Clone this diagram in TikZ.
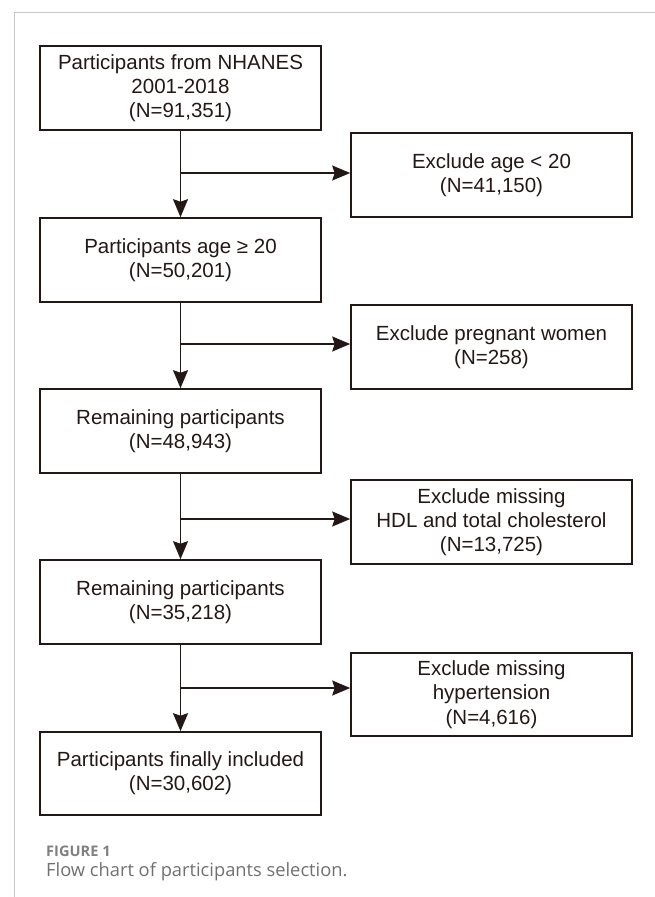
\documentclass[tikz,border=0pt]{standalone}
\usepackage{fontspec}
\setmainfont{Liberation Sans}
\newfontfamily\capfont{Open Sans}
\usetikzlibrary{arrows.meta}
\definecolor{ink}{RGB}{35,24,21}
\definecolor{framegray}{RGB}{200,200,200}
\definecolor{capgray}{RGB}{128,128,128}
\definecolor{captext}{RGB}{112,112,112}
\tikzset{
  box/.style={draw=ink, line width=1.6pt, rectangle, minimum width=281pt, minimum height=84pt,
    inner sep=0pt, align=center, text=ink, font=\fontsize{20.5}{24.3}\selectfont,
    execute at begin node={\rule{0pt}{23pt}}},
  arr/.style={draw=ink, line width=1.6pt, -{Stealth[length=18pt,width=15pt,inset=2.5pt]}},
  frameline/.style={draw=framegray, line width=1pt},
}
\begin{document}
\begin{tikzpicture}[x=1pt,y=-1pt]
\useasboundingbox (0,0) rectangle (655,897);
\draw[frameline] (14,897) -- (14,12) -- (655,12);

\node[box] (b1) at (180.5,88) {Participants from NHANES\\2001-2018\\(N=91,351)};
\node[box] (b2) at (180.5,260) {Participants age ≥ 20\\(N=50,201)};
\node[box] (b3) at (180.5,431) {Remaining participants\\(N=48,943)};
\node[box] (b4) at (180.5,602) {Remaining participants\\(N=35,218)};
\node[box, minimum height=83pt] (b5) at (180.5,773.5) {Participants finally included\\(N=30,602)};

\node[box] (e1) at (491.5,175) {Exclude age < 20\\(N=41,150)};
\node[box] (e2) at (491.5,347) {Exclude pregnant women\\(N=258)};
\node[box] (e3) at (491.5,522) {Exclude missing\\HDL and total cholesterol\\(N=13,725)};
\node[box, minimum height=83pt] (e4) at (491.5,694.5) {Exclude missing\\hypertension\\(N=4,616)};

\coordinate (j1) at (180.5,173);
\coordinate (j2) at (180.5,344);
\coordinate (j3) at (180.5,519);
\coordinate (j4) at (180.5,688);

\draw[arr] (b1) -- (b2);
\draw[arr] (b2) -- (b3);
\draw[arr] (b3) -- (b4);
\draw[arr] (b4) -- (b5);
\draw[arr] (j1) -- (e1.west |- j1);
\draw[arr] (j2) -- (e2.west |- j2);
\draw[arr] (j3) -- (e3.west |- j3);
\draw[arr] (j4) -- (e4.west |- j4);

\node[anchor=base west, inner sep=0pt, text=capgray, font=\capfont\bfseries\fontsize{14.6}{17}\selectfont] (cap1) at (46,856) {FIGURE 1};
\node[anchor=base west, inner sep=0pt, text=captext, font=\capfont\fontsize{18.3}{21}\selectfont] (cap2) at (46,876) {Flow chart of participants selection.};
\end{tikzpicture}
\end{document}
